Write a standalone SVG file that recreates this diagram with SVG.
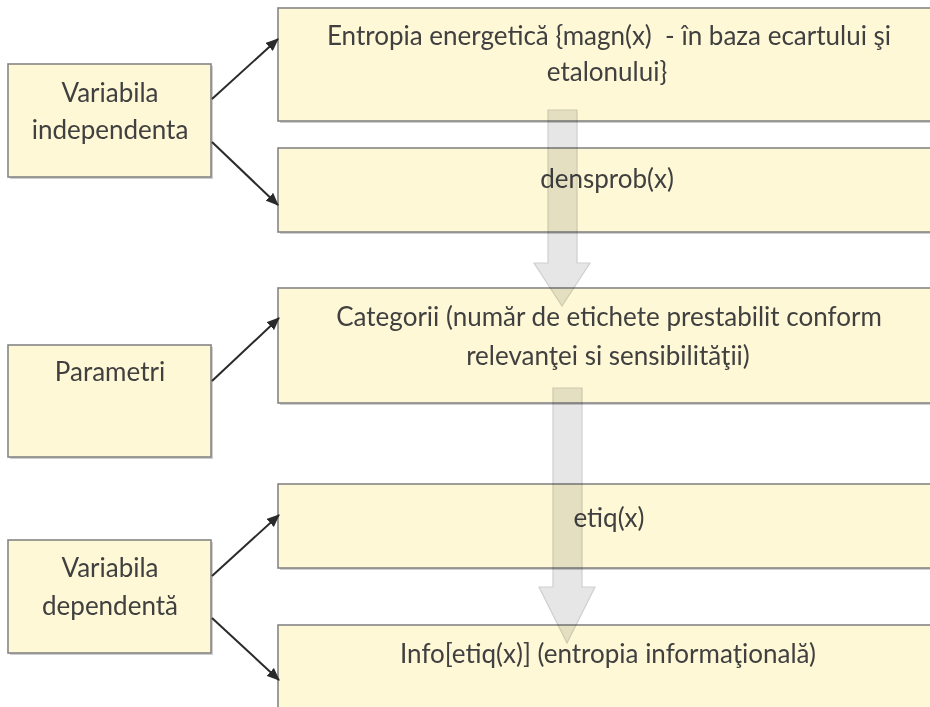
<svg xmlns="http://www.w3.org/2000/svg" width="930" height="707" viewBox="0 0 930 707">
<defs>
<style>
.box{fill:#fef8d6;stroke:#858585;stroke-width:1.6}
.sh{fill:#cfcfcf}
.t{font-family:Lato,"Open Sans","Liberation Sans",sans-serif;font-size:26px;fill:#404040;text-anchor:middle;white-space:pre}
.ln{stroke:#2a2a2a;stroke-width:2;fill:none}
.blk{fill:#e6e6e6;stroke:#cfcfcf;stroke-width:1.2;mix-blend-mode:multiply}
</style>
<marker id="ah" viewBox="0 0 12 10" refX="11" refY="5" markerWidth="13" markerHeight="11" orient="auto" markerUnits="userSpaceOnUse">
<path d="M0,0 L12,5 L0,10 z" fill="#2a2a2a"/>
</marker>
</defs>
<rect width="930" height="707" fill="#ffffff"/>

<g id="n-var-indep">
<rect class="sh" x="10" y="66" width="203" height="113"/>
<rect class="box" x="8" y="64" width="203" height="113"/>
<text class="t" x="110" y="102">Variabila</text>
<text class="t" x="110" y="139">independenta</text>
</g>
<g id="n-parametri">
<rect class="sh" x="10" y="347" width="203" height="112"/>
<rect class="box" x="8" y="345" width="203" height="112"/>
<text class="t" x="110" y="381">Parametri</text>
</g>
<g id="n-var-dep">
<rect class="sh" x="10" y="542" width="203" height="113"/>
<rect class="box" x="8" y="540" width="203" height="113"/>
<text class="t" x="110" y="577">Variabila</text>
<text class="t" x="110" y="615">dependentă</text>
</g>

<g id="n-entropia">
<rect class="sh" x="280" y="10" width="660" height="113"/>
<rect class="box" x="278" y="8" width="660" height="113"/>
<text class="t" x="609" y="45" xml:space="preserve">Entropia energetică {magn(x)  - în baza ecartului şi</text>
<text class="t" x="607" y="81">etalonului}</text>
</g>
<g id="n-densprob">
<rect class="sh" x="280" y="150" width="660" height="84"/>
<rect class="box" x="278" y="148" width="660" height="84"/>
<text class="t" x="607" y="188">densprob(x)</text>
</g>
<g id="n-categorii">
<rect class="sh" x="280" y="290" width="660" height="115"/>
<rect class="box" x="278" y="288" width="660" height="115"/>
<text class="t" x="609" y="326">Categorii (număr de etichete prestabilit conform</text>
<text class="t" x="608" y="365">relevanţei si sensibilităţii)</text>
</g>
<g id="n-etiq">
<rect class="sh" x="280" y="486" width="660" height="84"/>
<rect class="box" x="278" y="484" width="660" height="84"/>
<text class="t" x="609" y="527">etiq(x)</text>
</g>
<g id="n-info">
<rect class="sh" x="280" y="627" width="660" height="90"/>
<rect class="box" x="278" y="625" width="660" height="90"/>
<text class="t" x="608" y="663">Info[etiq(x)] (entropia informaţională)</text>
</g>

<g id="connectors">
<line class="ln" x1="212" y1="99" x2="278" y2="39" marker-end="url(#ah)"/>
<line class="ln" x1="212" y1="142" x2="278" y2="205" marker-end="url(#ah)"/>
<line class="ln" x1="212" y1="381" x2="279" y2="318" marker-end="url(#ah)"/>
<line class="ln" x1="212" y1="576" x2="279" y2="515" marker-end="url(#ah)"/>
<line class="ln" x1="212" y1="618" x2="279" y2="680" marker-end="url(#ah)"/>
<path class="blk" d="M548,110 L577,110 L577,263 L590,263 L562,306 L534,263 L548,263 Z"/>
<path class="blk" d="M553,388 L582,388 L582,587 L595,587 L567,643 L539,587 L553,587 Z"/>
</g>
</svg>
